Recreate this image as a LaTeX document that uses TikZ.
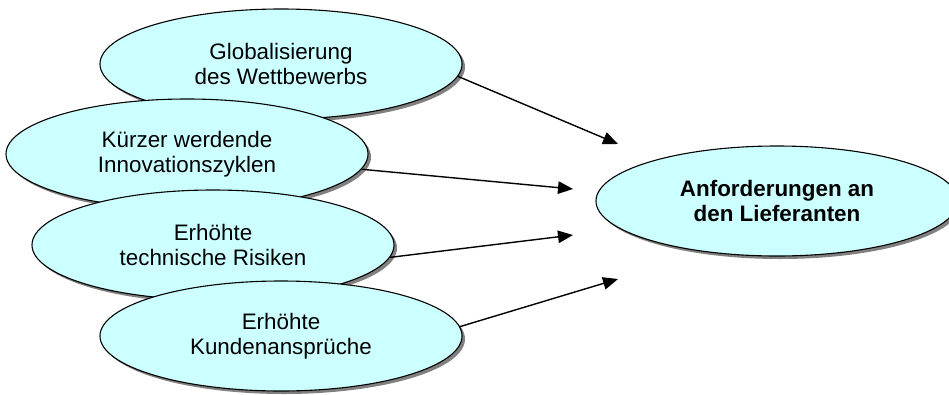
\documentclass[tikz,border=0pt]{standalone}
\usepackage{fontspec}
\setmainfont{Liberation Sans}
\usetikzlibrary{shapes.geometric,shadows,arrows.meta}
\definecolor{ovalcyan}{HTML}{CCFFFF}
\begin{document}
\begin{tikzpicture}[x=1pt,y=-1pt,>={Triangle[length=15pt,width=12.5pt]},
		oval/.style={ellipse,draw,line width=1.1pt,fill=ovalcyan,minimum width=362pt,minimum height=110pt,inner sep=0pt,align=center,
			font=\fontsize{22.4}{25}\selectfont,
			drop shadow={shadow xshift=3pt,shadow yshift=-3pt,fill=black!50,opacity=1}},
		pfeil/.style={->,line width=1.4pt}]
			\useasboundingbox (0,0) rectangle (949,394);
			\node[oval] (glob) at (281,64) {Globalisierung\\des Wettbewerbs};
			\node[oval] (zykl) at (187,154) {Kürzer werdende\\Innovationszyklen};
			\node[oval] (risk) at (213,245) {Erhöhte\\technische Risiken};
			\node[oval] (kund) at (281,336) {Erhöhte\\Kundenansprüche};
			\node[oval,font=\bfseries\fontsize{22.4}{25}\selectfont] (anf) at (777,201) {Anforderungen an\\den Lieferanten};
			% freie Pfeilenden
			\coordinate (e1) at (618,144);
			\coordinate (e2) at (573,189);
			\coordinate (e3) at (573,235);
			\coordinate (e4) at (618,279);
			\foreach \s/\e in {glob.-4/e1,zykl.-5/e2,risk.-4/e3,kund.3/e4}{
				\draw[pfeil] (\s) -- (\e);
			}
		\end{tikzpicture}
\end{document}
